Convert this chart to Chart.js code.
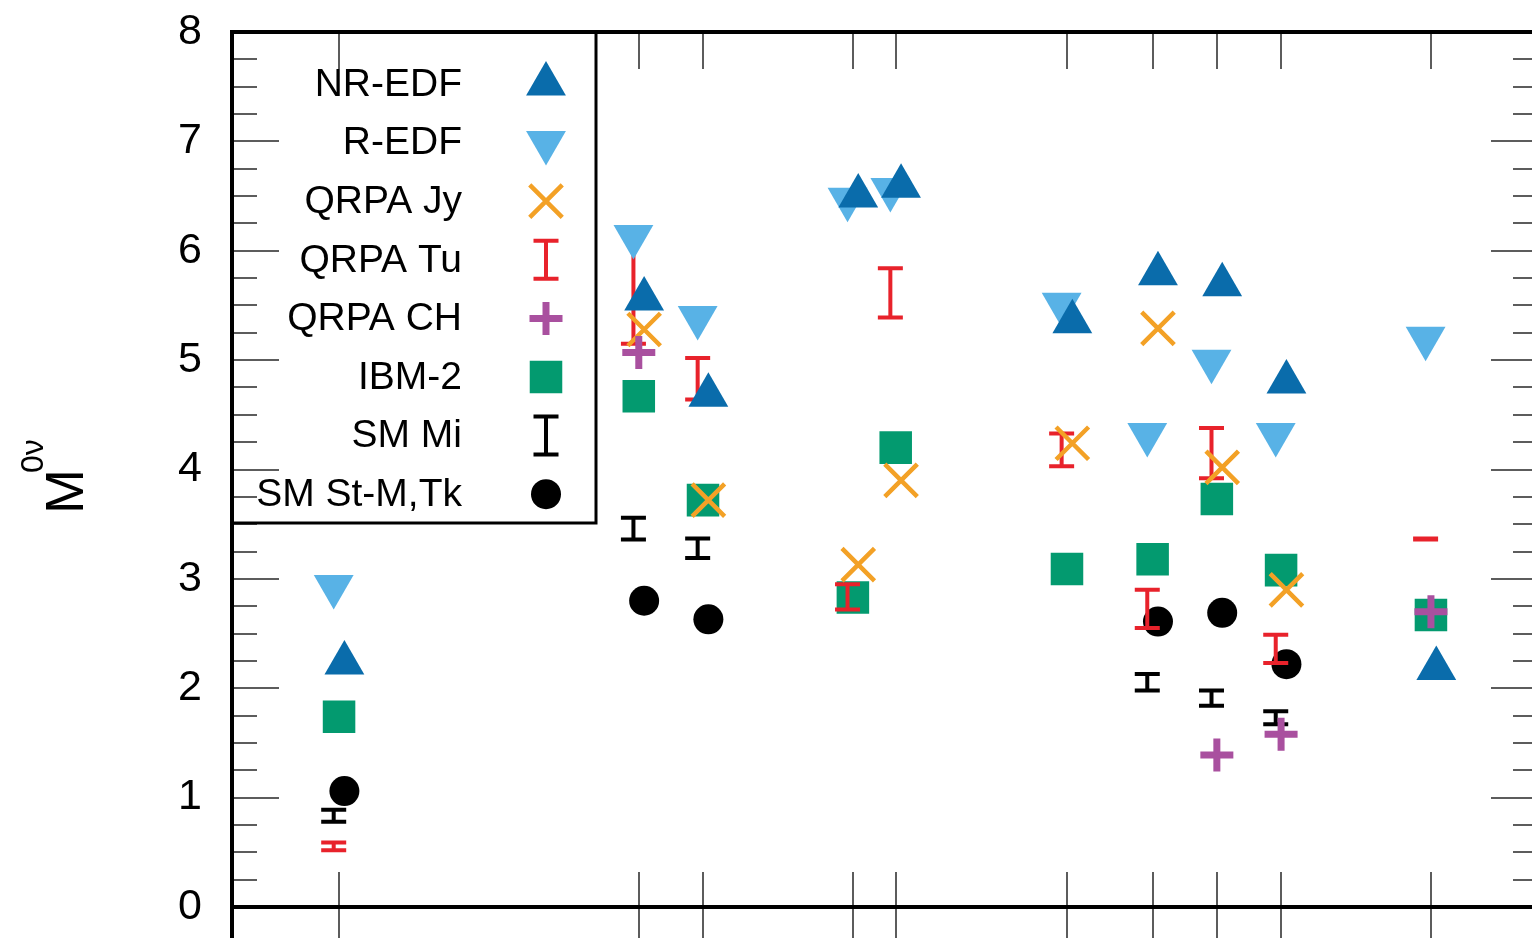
<!DOCTYPE html>
<html>
<head>
<meta charset="utf-8">
<title>M0v matrix elements</title>
<script src="https://cdn.jsdelivr.net/npm/chart.js@4.4.0/dist/chart.umd.min.js"></script>
<style>
  html, body { margin: 0; padding: 0; overflow: hidden; background: #fff; }
  #wrap { width: 1560px; height: 980px; }
</style>
</head>
<body>
<div id="wrap"><canvas id="nmeChart" width="1560" height="980"></canvas></div>
<script>
// nuclei on the x axis (mass number A)
const isotopes = ['48Ca', '76Ge', '82Se', '96Zr', '100Mo', '116Cd', '124Sn', '130Te', '136Xe', '150Nd'];
const massNumbers = [48, 76, 82, 96, 100, 116, 124, 130, 136, 150];
const yTicks = [0, 1, 2, 3, 4, 5, 6, 7, 8];

// values, same order as massNumbers (null = no calculation)
const nrEdf   = [2.23, 5.56, 4.68, 6.50, 6.59, 5.35, 5.79, 5.69, 4.80, 2.18];
const rEdf    = [2.93, 6.13, 5.39, 6.47, 6.56, 5.51, 4.32, 4.99, 4.32, 5.20];
const qrpaJy  = [null, 5.28, 3.72, 3.13, 3.90, 4.24, 5.29, 4.02, 2.90, null];
const qrpaTuLow  = [0.52, 5.15, 4.64, 2.72, 5.39, 4.03, 2.55, 3.92, 2.23, 3.36];
const qrpaTuHigh = [0.59, 6.20, 5.02, 2.95, 5.84, 4.33, 2.90, 4.38, 2.49, 3.37];
const qrpaCh  = [null, 5.07, null, null, null, null, null, 1.39, 1.58, 2.70];
const ibm2    = [1.74, 4.67, 3.72, 2.83, 4.20, 3.09, 3.18, 3.73, 3.08, 2.67];
const smMiLow  = [0.78, 3.36, 3.19, null, null, null, 1.98, 1.84, 1.67, null];
const smMiHigh = [0.89, 3.56, 3.37, null, null, null, 2.13, 1.98, 1.79, null];
const smStm   = [1.06, 2.80, 2.63, null, null, null, 2.61, 2.69, 2.22, null];

const xMin = 38, xMax = 160, yMin = 0, yMax = 8;
const FONT = '"Liberation Sans", Arial, Helvetica, sans-serif';

function points(vals, shift) {
    return massNumbers
        .map((a, i) => vals[i] == null ? null : { x: a + shift, y: vals[i] })
        .filter(p => p);
}

function ranges(lo, hi, shift) {
    return massNumbers
        .map((a, i) => lo[i] == null ? null : { x: a + shift, y: lo[i], lo: lo[i], hi: hi[i] })
        .filter(p => p);
}

function drawIBar(ctx, px, top, bottom) {
    const hw = 12.5;
    ctx.beginPath();
    ctx.moveTo(px, top); ctx.lineTo(px, bottom);
    ctx.moveTo(px - hw, top); ctx.lineTo(px + hw, top);
    ctx.moveTo(px - hw, bottom); ctx.lineTo(px + hw, bottom);
    ctx.stroke();
}

// I shaped range bars, drawn right after their own dataset so the stacking matches
const rangeBars = {
    id: 'rangeBars',
    afterDatasetDraw(chart, args) {
        const ds = chart.data.datasets[args.index];
        if (!ds.isRange) return;
        const { ctx, scales: { x, y } } = chart;
        ctx.save();
        ctx.strokeStyle = ds.pointBorderColor;
        ctx.lineWidth = 4;
        ds.data.forEach(p => {
            drawIBar(ctx, x.getPixelForValue(p.x), y.getPixelForValue(p.hi), y.getPixelForValue(p.lo));
        });
        ctx.restore();
    }
};

// box frame with gnuplot style ticks on all four sides
const frameTicks = {
    id: 'frameTicks',
    beforeDatasetsDraw(chart) {
        const { ctx, scales: { x, y } } = chart;
        const left = x.getPixelForValue(xMin), right = x.getPixelForValue(xMax);
        const top = y.getPixelForValue(yMax), bottom = y.getPixelForValue(yMin);
        ctx.save();
        ctx.strokeStyle = '#5c5c5c';
        ctx.lineWidth = 2;
        ctx.beginPath();
        massNumbers.forEach(a => {
            const px = Math.round(x.getPixelForValue(a));
            ctx.moveTo(px, bottom + 36); ctx.lineTo(px, bottom - 35);
            ctx.moveTo(px, top); ctx.lineTo(px, top + 37);
        });
        for (let k = 0; k <= (yMax - yMin) * 4; k++) {
            const v = yMin + k / 4;
            const py = Math.round(y.getPixelForValue(v));
            const len = k % 4 === 0 ? 47 : 25;
            ctx.moveTo(left, py); ctx.lineTo(left + len, py);
            ctx.moveTo(right, py); ctx.lineTo(right - len, py);
        }
        ctx.stroke();
        ctx.restore();
    },
    afterDatasetsDraw(chart) {
        const { ctx, scales: { x, y } } = chart;
        const left = x.getPixelForValue(xMin), right = x.getPixelForValue(xMax);
        const top = y.getPixelForValue(yMax), bottom = y.getPixelForValue(yMin);
        ctx.save();
        ctx.strokeStyle = '#000';
        ctx.lineWidth = 4;
        ctx.beginPath();
        ctx.moveTo(left, top); ctx.lineTo(right, top);
        ctx.lineTo(right, bottom); ctx.lineTo(left, bottom);
        ctx.moveTo(left, top - 2); ctx.lineTo(left, bottom + 36);
        ctx.stroke();
        ctx.restore();
    }
};

// legend box in the upper left corner, text on the left and symbol on the right
const boxLegend = {
    id: 'boxLegend',
    afterDraw(chart) {
        const { ctx, scales: { x, y } } = chart;
        const left = x.getPixelForValue(xMin), top = y.getPixelForValue(yMax);
        ctx.save();
        ctx.strokeStyle = '#000';
        ctx.lineWidth = 3;
        ctx.strokeRect(left, top, 364, 491);
        ctx.font = '39px ' + FONT;
        ctx.textAlign = 'right';
        ctx.textBaseline = 'middle';
        chart.data.datasets.forEach(ds => {
            const cy = top + 52 + ds.legendRow * 58.6;
            ctx.fillStyle = '#000';
            ctx.fillText(ds.label, 462, cy + 1);
            const mx = 546;
            if (ds.isRange) {
                ctx.strokeStyle = ds.pointBorderColor;
                ctx.lineWidth = 4;
                drawIBar(ctx, mx, cy - 19, cy + 19);
            } else {
                ctx.fillStyle = ds.pointBackgroundColor || 'rgba(0,0,0,0)';
                ctx.strokeStyle = ds.pointBorderColor || 'rgba(0,0,0,0)';
                ctx.lineWidth = ds.pointBorderWidth || 0;
                Chart.helpers.drawPoint(ctx, {
                    pointStyle: ds.pointStyle,
                    rotation: ds.pointRotation || 0,
                    radius: ds.pointRadius,
                    borderWidth: ds.pointBorderWidth || 0
                }, mx, cy);
            }
        });
        ctx.restore();
    }
};

// y axis title M^0v
const yTitle = {
    id: 'yTitle',
    afterDraw(chart) {
        const ctx = chart.ctx;
        ctx.save();
        ctx.translate(83, 514);
        ctx.rotate(-Math.PI / 2);
        ctx.fillStyle = '#000';
        ctx.textAlign = 'left';
        ctx.textBaseline = 'alphabetic';
        ctx.font = '54px ' + FONT;
        ctx.fillText('M', 0, 0);
        const mw = ctx.measureText('M').width;
        ctx.font = '32px ' + FONT;
        ctx.fillText('0\u03bd', mw - 4, -40);
        ctx.restore();
    }
};

const datasets = [
    { label: 'QRPA CH', legendRow: 4, data: points(qrpaCh, 0), order: 0,
      pointStyle: 'cross', pointRadius: 16.5, pointBorderColor: '#a9509f', pointBorderWidth: 7 },
    { label: 'QRPA Jy', legendRow: 2, data: points(qrpaJy, 0.5), order: 1,
      pointStyle: 'crossRot', pointRadius: 23, pointBorderColor: '#f3a126', pointBorderWidth: 4.5 },
    { label: 'NR-EDF', legendRow: 0, data: points(nrEdf, 0.5), order: 2,
      pointStyle: 'triangle', pointRadius: 23, pointBackgroundColor: '#0a6cab', pointBorderWidth: 0 },
    { label: 'R-EDF', legendRow: 1, data: points(rEdf, -0.5), order: 3,
      pointStyle: 'triangle', pointRotation: 180, pointRadius: 23, pointBackgroundColor: '#58b2e6', pointBorderWidth: 0 },
    { label: 'QRPA Tu', legendRow: 3, data: ranges(qrpaTuLow, qrpaTuHigh, -0.5), order: 4, isRange: true,
      pointRadius: 0, pointBorderColor: '#e8222b' },
    { label: 'SM Mi', legendRow: 6, data: ranges(smMiLow, smMiHigh, -0.5), order: 5, isRange: true,
      pointRadius: 0, pointBorderColor: '#000000' },
    { label: 'SM St-M,Tk', legendRow: 7, data: points(smStm, 0.5), order: 6,
      pointStyle: 'circle', pointRadius: 15, pointBackgroundColor: '#000000', pointBorderWidth: 0 },
    { label: 'IBM-2', legendRow: 5, data: points(ibm2, 0), order: 7,
      pointStyle: 'rect', pointRadius: 23, pointBackgroundColor: '#039a6f', pointBorderWidth: 0 }
];
datasets.forEach(ds => { ds.pointHoverRadius = ds.pointRadius; ds.showLine = false; });

// canvas is a bit larger than the window: the original figure is cut off on the right and bottom
const W = 1560, H = 980;

new Chart(document.getElementById('nmeChart'), {
    type: 'scatter',
    data: { datasets: datasets },
    options: {
        responsive: false,
        devicePixelRatio: 1,
        animation: false,
        events: [],
        layout: { autoPadding: false, padding: { left: 0, top: 32, right: W - 1538, bottom: H - 907 } },
        plugins: { legend: { display: false }, tooltip: { enabled: false } },
        scales: {
            x: {
                type: 'linear', min: xMin, max: xMax, display: false,
                ticks: { display: false }
            },
            y: {
                type: 'linear', min: yMin, max: yMax,
                afterBuildTicks: s => { s.ticks = yTicks.map(v => ({ value: v })); },
                afterFit: s => { s.width = 232; s.paddingTop = 0; s.paddingBottom = 0; },
                grid: { display: false },
                border: { display: false },
                ticks: {
                    padding: 22,
                    color: '#000',
                    font: { family: FONT, size: 43 }
                }
            }
        }
    },
    plugins: [frameTicks, rangeBars, boxLegend, yTitle]
});
</script>
</body>
</html>
